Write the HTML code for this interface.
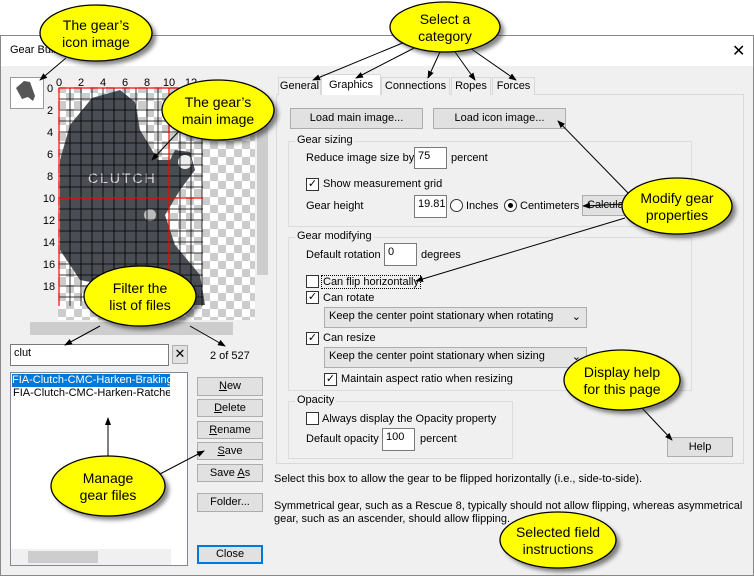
<!DOCTYPE html>
<html><head><meta charset="utf-8"><style>
*{box-sizing:border-box;margin:0;padding:0}
body{width:754px;height:576px;background:#fff;position:relative;overflow:hidden;font-family:"Liberation Sans",sans-serif;font-size:11px;color:#000}
.a{position:absolute}
.btn{position:absolute;background:#e1e1e1;border:1px solid #adadad;text-align:center;line-height:16px;font-size:11px}
.grp{position:absolute;border:1px solid #dcdcdc}
.gl{position:absolute;background:#f0f0f0;padding:0 2px;top:-8px;left:6px;font-size:11px}
.inp{position:absolute;background:#fff;border:1px solid #7a7a7a;padding:2px 3px;font-size:11px}
.cb{position:absolute;width:13px;height:13px;border:1px solid #333;background:#fff;font-size:11px;line-height:11px;text-align:center}
.sel{position:absolute;background:#e5e5e5;border:1px solid #adadad;padding:2px 4px;font-size:11px}
.tab{position:absolute;border:1px solid #d9d9d9;border-bottom:none;background:#f0f0f0;text-align:center;font-size:11px;line-height:16px}
</style></head><body>
<div class="a" style="left:0;top:35px;width:754px;height:541px;background:#f0f0f0;border:1px solid #888"></div>
<div class="a" style="left:1px;top:36px;width:752px;height:30px;background:#fff"></div>
<div class="a" style="left:10px;top:44px;font-size:11px">Gear Builder</div>
<div class="a" style="left:732px;top:41px;font-size:16px">✕</div>

<!-- preview -->
<div class="a" style="left:10px;top:77px;width:245px;height:243px;background-color:#fff;background-image:linear-gradient(45deg,#ccc 25%,transparent 25%,transparent 75%,#ccc 75%),linear-gradient(45deg,#ccc 25%,transparent 25%,transparent 75%,#ccc 75%);background-size:16px 16px;background-position:0 0,8px 8px"></div>
<div class="a" style="left:10px;top:77px;width:245px;height:10px;background:#f0f0f0"></div>
<div class="a" style="left:10px;top:77px;width:48px;height:243px;background:#f0f0f0"></div>
<div class="a" style="left:10px;top:77px;width:34px;height:32px;background:#fff;border:1px solid #999"></div>
<svg class="a" style="left:0;top:0" width="754" height="576">
<path d="M16 88 L24 81 L30 82 L35 96 L33 101 L28 97 L22 99 Z" fill="#555"/>
<path d="M92 98 L120 90 L135 102 L140 130 L158 160 L170 160 L175 150 L190 152 L195 170 L180 190 L165 215 L175 245 L200 275 L205 305 L150 305 L130 290 L80 280 L60 250 L60 160 L70 125 Z" fill="#4a4e54"/>
<circle cx="185" cy="162" r="7" fill="#eee"/>
<circle cx="150" cy="215" r="6" fill="#bbb"/>
<text x="88" y="183" fill="#ddd" font-size="14" font-family="Liberation Sans" letter-spacing="2">CLUTCH</text>
<g stroke="#000" stroke-width="0.8">
<path d="M59 99H203M59 110H203M59 121H203M59 132H203M59 143H203M59 154H203M59 165H203M59 176H203M59 187H203M59 209H203M59 220H203M59 231H203M59 242H203M59 253H203M59 264H203M59 275H203M59 286H203M59 297H203"/>
<path d="M70 88V306M81 88V306M92 88V306M103 88V306M114 88V306M125 88V306M136 88V306M147 88V306M158 88V306M180 88V306M191 88V306M202 88V306"/>
</g>
<path d="M59 88V306M169 88V306M59 198H203M59 88H203" stroke="red" stroke-width="1.2"/>
<g font-size="11" font-family="Liberation Sans" text-anchor="middle">
<text x="59" y="86">0</text><text x="81" y="86">2</text><text x="103" y="86">4</text><text x="125" y="86">6</text><text x="147" y="86">8</text><text x="169" y="86">10</text><text x="191" y="86">12</text>
<text x="50" y="92">0</text><text x="50" y="114">2</text><text x="50" y="136">4</text><text x="50" y="158">6</text><text x="50" y="180">8</text><text x="49" y="202">10</text><text x="49" y="224">12</text><text x="49" y="246">14</text><text x="49" y="268">16</text><text x="49" y="290">18</text>
</g>
</svg>
<div class="a" style="left:255px;top:77px;width:15px;height:243px;background:#f0f0f0"></div>
<div class="a" style="left:257px;top:95px;width:11px;height:180px;background:#cdcdcd"></div>
<div class="a" style="left:10px;top:320px;width:260px;height:17px;background:#f0f0f0"></div>
<div class="a" style="left:30px;top:322px;width:203px;height:13px;background:#cdcdcd"></div>

<div class="inp" style="left:10px;top:344px;width:159px;height:22px">clut</div>
<div class="btn" style="left:172px;top:345px;width:16px;height:19px;font-size:13px">✕</div>
<div class="a" style="left:210px;top:350px">2 of 527</div>
<div class="a" style="left:10px;top:372px;width:178px;height:194px;background:#fff;border:1px solid #828790"></div>
<div class="a" style="left:12px;top:374px;width:158px;height:13px;background:#0078d7;color:#fff;overflow:hidden;white-space:nowrap;line-height:13px">FIA-Clutch-CMC-Harken-Braking.</div>
<div class="a" style="left:13px;top:387px;width:157px;overflow:hidden;white-space:nowrap">FIA-Clutch-CMC-Harken-Ratcheti</div>
<div class="a" style="left:11px;top:549px;width:160px;height:16px;background:#f0f0f0"></div>
<div class="a" style="left:28px;top:551px;width:70px;height:12px;background:#cdcdcd"></div>
<div class="btn" style="left:197px;top:377px;width:66px;height:19px"><u>N</u>ew</div>
<div class="btn" style="left:197px;top:399px;width:66px;height:18px"><u>D</u>elete</div>
<div class="btn" style="left:197px;top:421px;width:66px;height:18px"><u>R</u>ename</div>
<div class="btn" style="left:197px;top:442px;width:66px;height:18px"><u>S</u>ave</div>
<div class="btn" style="left:197px;top:464px;width:66px;height:18px">Save <u>A</u>s</div>
<div class="btn" style="left:197px;top:493px;width:66px;height:19px">Folder...</div>
<div class="btn" style="left:197px;top:545px;width:66px;height:19px;border:2px solid #0078d7;line-height:15px">Close</div>

<!-- tabs -->
<div class="a" style="left:276px;top:94px;width:468px;height:370px;border:1px solid #d9d9d9;background:#f0f0f0"></div>
<div class="tab" style="left:278px;top:77px;width:43px;height:18px">General</div>
<div class="tab" style="left:321px;top:74px;width:60px;height:21px;background:#fff;line-height:20px">Graphics</div>
<div class="tab" style="left:381px;top:77px;width:69px;height:18px">Connections</div>
<div class="tab" style="left:451px;top:77px;width:40px;height:18px">Ropes</div>
<div class="tab" style="left:492px;top:77px;width:43px;height:18px">Forces</div>
<div class="btn" style="left:290px;top:108px;width:133px;height:21px;line-height:19px">Load main image...</div>
<div class="btn" style="left:433px;top:108px;width:133px;height:21px;line-height:19px">Load icon image...</div>

<div class="grp" style="left:288px;top:141px;width:404px;height:86px"><span class="gl">Gear sizing</span></div>
<div class="a" style="left:306px;top:152px">Reduce image size by</div>
<div class="inp" style="left:414px;top:147px;width:33px;height:22px">75</div>
<div class="a" style="left:451px;top:152px">percent</div>
<div class="cb" style="left:306px;top:178px">✓</div><div class="a" style="left:323px;top:178px">Show measurement grid</div>
<div class="a" style="left:306px;top:200px">Gear height</div>
<div class="inp" style="left:414px;top:195px;width:33px;height:23px">19.81</div>
<div class="a" style="left:450px;top:199px;width:13px;height:13px;border:1px solid #333;border-radius:50%;background:#fff"></div>
<div class="a" style="left:466px;top:200px">Inches</div>
<div class="a" style="left:504px;top:199px;width:13px;height:13px;border:1px solid #333;border-radius:50%;background:#fff"><div class="a" style="left:3px;top:3px;width:5px;height:5px;background:#000;border-radius:50%"></div></div>
<div class="a" style="left:520px;top:200px">Centimeters</div>
<div class="btn" style="left:582px;top:195px;width:60px;height:21px;line-height:19px;text-align:left;padding-left:4px">Calculate</div>

<div class="grp" style="left:288px;top:237px;width:404px;height:154px"><span class="gl">Gear modifying</span></div>
<div class="a" style="left:306px;top:249px">Default rotation</div>
<div class="inp" style="left:384px;top:243px;width:33px;height:23px">0</div>
<div class="a" style="left:421px;top:249px">degrees</div>
<div class="cb" style="left:306px;top:275px"></div><div class="a" style="left:321px;top:275px;border:1px dotted #000;padding:0 1px">Can flip horizontally</div>
<div class="cb" style="left:306px;top:291px">✓</div><div class="a" style="left:323px;top:292px">Can rotate</div>
<div class="sel" style="left:324px;top:307px;width:263px;height:21px">Keep the center point stationary when rotating<span style="position:absolute;right:5px">⌄</span></div>
<div class="cb" style="left:306px;top:332px">✓</div><div class="a" style="left:323px;top:332px">Can resize</div>
<div class="sel" style="left:324px;top:347px;width:263px;height:21px">Keep the center point stationary when sizing<span style="position:absolute;right:5px">⌄</span></div>
<div class="cb" style="left:324px;top:373px">✓</div><div class="a" style="left:341px;top:373px">Maintain aspect ratio when resizing</div>

<div class="grp" style="left:288px;top:401px;width:225px;height:58px"><span class="gl">Opacity</span></div>
<div class="cb" style="left:306px;top:412px"></div><div class="a" style="left:322px;top:413px">Always display the Opacity property</div>
<div class="a" style="left:306px;top:433px">Default opacity</div>
<div class="inp" style="left:382px;top:428px;width:33px;height:23px">100</div>
<div class="a" style="left:420px;top:433px">percent</div>
<div class="btn" style="left:667px;top:437px;width:66px;height:20px;line-height:18px">Help</div>

<div class="a" style="left:274px;top:473px">Select this box to allow the gear to be flipped horizontally (i.e., side-to-side).</div>
<div class="a" style="left:274px;top:500px;line-height:13px">Symmetrical gear, such as a Rescue 8, typically should not allow flipping, whereas asymmetrical<br>gear, such as an ascender, should allow flipping.</div>

<!-- callouts -->
<svg class="a" style="left:0;top:0" width="754" height="576">
<defs><marker id="m" markerWidth="8" markerHeight="8" refX="7" refY="4" orient="auto"><path d="M0 1L8 4L0 7Z" fill="#000"/></marker>
<filter id="s"><feGaussianBlur stdDeviation="2"/></filter></defs>
<g stroke="#000" stroke-width="1" fill="none" marker-end="url(#m)">
<path d="M66 58L40 80"/><path d="M405 42L313 80"/><path d="M420 45L356 78"/><path d="M440 52L428 78"/><path d="M455 52L475 80"/><path d="M470 48L516 80"/>
<path d="M180 130L152 160"/><path d="M630 195L558 121"/><path d="M625 204L583 206"/><path d="M625 218L416 281"/>
<path d="M100 326L65 345"/><path d="M190 326L225 346"/><path d="M108 460L108 418"/><path d="M158 475L204 451"/><path d="M642 408L672 440"/>
</g>
<g fill="#333" filter="url(#s)" opacity=".6">
<ellipse cx="100" cy="37" rx="56" ry="28"/><ellipse cx="449" cy="31" rx="55" ry="25"/><ellipse cx="222" cy="114" rx="56" ry="30"/><ellipse cx="681" cy="210" rx="55" ry="28"/><ellipse cx="144" cy="300" rx="56" ry="30"/><ellipse cx="112" cy="490" rx="57" ry="30"/><ellipse cx="626" cy="384" rx="58" ry="30"/><ellipse cx="562" cy="544" rx="58" ry="28"/>
</g>
<g fill="#ffff00" stroke="#000" stroke-width="1.3">
<ellipse cx="96" cy="33" rx="56" ry="28"/><ellipse cx="445" cy="27" rx="55" ry="25"/><ellipse cx="218" cy="110" rx="56" ry="30"/><ellipse cx="677" cy="206" rx="55" ry="28"/><ellipse cx="140" cy="296" rx="56" ry="30"/><ellipse cx="108" cy="486" rx="57" ry="30"/><ellipse cx="622" cy="380" rx="58" ry="30"/><ellipse cx="558" cy="540" rx="58" ry="28"/>
</g>
<g font-family="Liberation Sans" font-size="14" text-anchor="middle" fill="#000">
<text x="96" y="30">The gear’s</text><text x="96" y="47">icon image</text>
<text x="445" y="24">Select a</text><text x="445" y="41">category</text>
<text x="218" y="107">The gear’s</text><text x="218" y="124">main image</text>
<text x="677" y="203">Modify gear</text><text x="677" y="220">properties</text>
<text x="140" y="293">Filter the</text><text x="140" y="310">list of files</text>
<text x="108" y="483">Manage</text><text x="108" y="500">gear files</text>
<text x="622" y="377">Display help</text><text x="622" y="394">for this page</text>
<text x="558" y="537">Selected field</text><text x="558" y="554">instructions</text>
</g>
</svg>
</body></html>
